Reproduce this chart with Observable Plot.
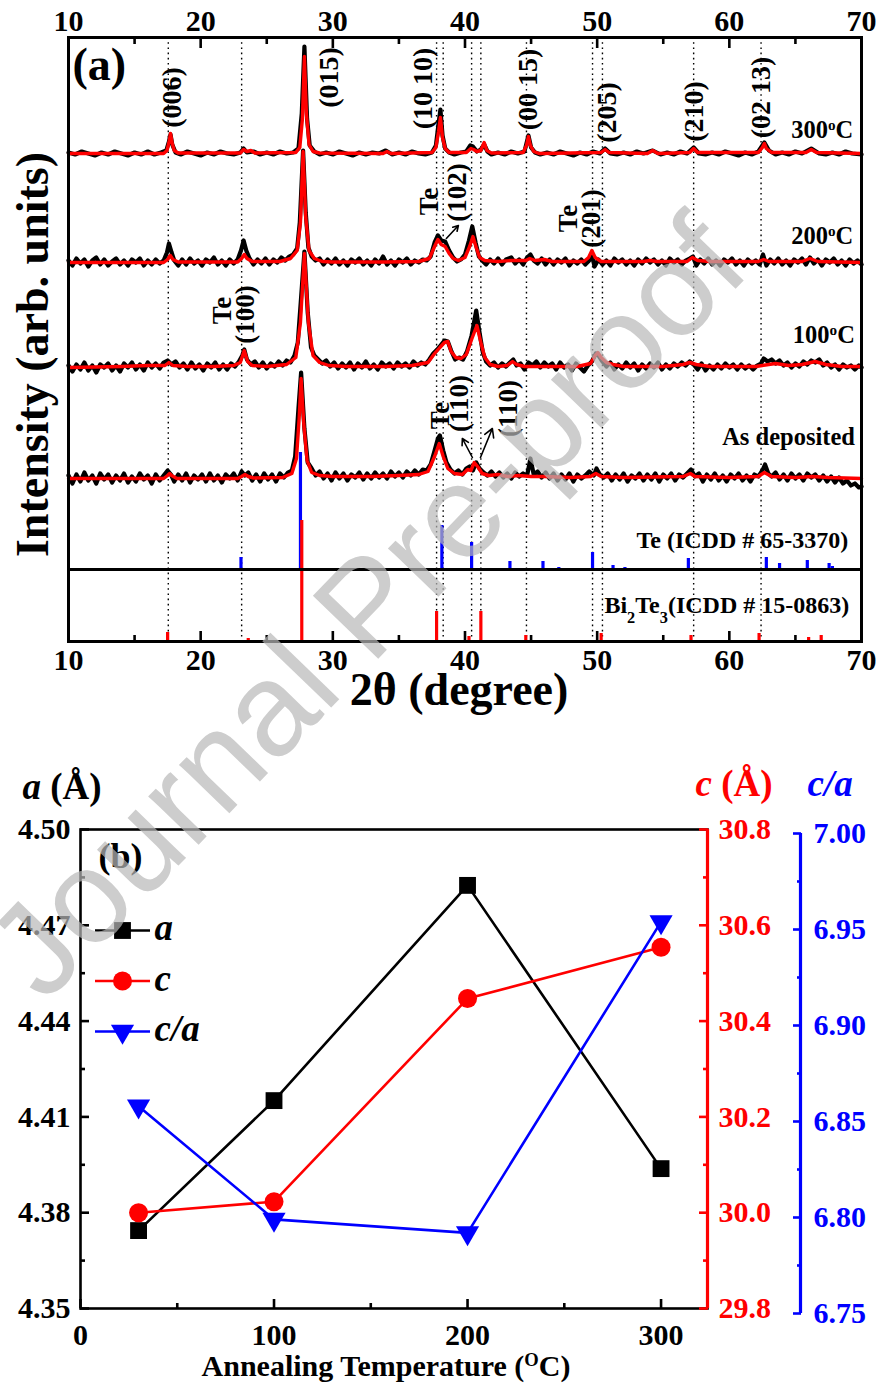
<!DOCTYPE html>
<html>
<head>
<meta charset="utf-8">
<script src="https://cdn.jsdelivr.net/npm/d3@7"></script>
<script src="https://cdn.jsdelivr.net/npm/@observablehq/plot@0.6"></script>
<style>
  html, body { margin: 0; padding: 0; background: #fff; }
  #wrap { position: relative; width: 882px; height: 1387px; overflow: hidden; background: #fff; }
  #wrap svg { position: absolute; left: 0; display: block; font-family: "Liberation Serif", "Times New Roman", serif !important; font-weight: bold; }
  #wrap svg text, #wrap svg tspan { font-family: "Liberation Serif", "Times New Roman", serif !important; }
  #wm { position: absolute; left: 366px; top: 606px; transform: translate(-50%, -50%) rotate(-46deg);
        font-family: "Liberation Sans", Arial, sans-serif; font-size: 132px; color: rgb(184,184,184); opacity: 0.7;
        white-space: nowrap; pointer-events: none; z-index: 10; }
</style>
</head>
<body>
<div id="wrap"><div id="wm">Journal Pre-proof</div></div>
<script>
// ================= DATA : panel (a) XRD patterns =================
// intensities in arbitrary units (heights above each pattern's baseline)
const patternNames = ["300^{o}C", "200^{o}C", "100^{o}C", "As deposited"];
const patternOffsets = [488, 379, 274, 163];

const fit300 = [[10,0],[17.2,0],[17.45,3],[17.6,11],[17.72,20],[17.85,10],[18.0,3],[18.3,0.5],[23.0,0.5],[23.25,4],[23.5,2],[23.8,3],[24.1,0.5],[27.2,1],[27.5,6],[27.7,35],[27.85,97],[28.0,40],[28.2,9],[28.5,2],[29.0,0.5],[33.8,0],[34.1,2],[34.4,0],[37.5,1],[37.8,6],[38.0,22],[38.14,36],[38.3,16],[38.5,5],[38.8,1],[40.1,1],[40.45,5],[40.65,4],[40.9,2],[41.2,3],[41.45,11],[41.65,3],[42.0,0.5],[44.4,1],[44.65,8],[44.8,17],[44.95,8],[45.2,2],[45.6,0],[50.3,1],[50.6,4],[50.9,1],[53.8,0],[54.2,3],[54.6,0],[57.0,1],[57.3,5],[57.6,1],[62.2,1],[62.5,6],[62.65,10],[62.8,5],[63.2,1],[65.8,1],[66.2,4],[66.6,1],[70,0]];
const raw300 = [[10,1],[10.5,-1],[11,2],[11.5,0],[12,-2],[12.5,1],[13,-1],[13.5,2],[14,0],[14.5,-2],[15,1],[15.5,-1],[16,2],[16.5,-1],[17,1],[17.4,3],[17.6,12],[17.72,19],[17.85,9],[18.1,1],[18.5,-1],[19,2],[19.5,0],[20,-2],[20.5,1],[21,-1],[21.5,2],[22,0],[22.5,-1],[23,1],[23.25,5],[23.5,1],[24,2],[24.5,-1],[25,1],[25.5,-1],[26,2],[26.5,0],[27,1],[27.4,5],[27.65,40],[27.85,107],[28.05,35],[28.25,8],[28.6,2],[29,-1],[29.5,1],[30,-1],[30.5,2],[31,0],[31.5,-2],[32,1],[32.5,-1],[33,1],[33.5,0],[34,3],[34.5,-1],[35,1],[35.5,-1],[36,2],[36.5,0],[37,-1],[37.5,1],[37.8,8],[38.0,30],[38.14,44],[38.3,18],[38.5,5],[38.8,1],[39.2,-1],[39.7,1],[40.1,2],[40.4,8],[40.6,7],[40.9,2],[41.2,4],[41.45,9],[41.7,2],[42,-1],[42.5,1],[43,-1],[43.5,2],[44,0],[44.5,2],[44.8,18],[45.0,6],[45.3,1],[45.7,-1],[46.2,1],[46.7,-1],[47.2,2],[47.7,0],[48.2,-2],[48.7,1],[49.2,-1],[49.7,2],[50.2,0],[50.6,5],[51,0],[51.5,-1],[52,1],[52.5,-1],[53,2],[53.5,0],[54.2,3],[54.8,-1],[55.3,1],[55.8,-1],[56.3,2],[56.8,0],[57.3,6],[57.7,0],[58.2,-1],[58.7,1],[59.2,-1],[59.7,2],[60.2,0],[60.7,-2],[61.2,1],[61.7,-1],[62.2,2],[62.65,11],[63.0,3],[63.5,-1],[64,1],[64.5,-1],[65,2],[65.5,0],[66.2,5],[66.8,0],[67.3,-1],[67.8,1],[68.3,-1],[68.8,2],[69.3,0],[70,-1]];

const fit200 = [[10,0],[17.2,0],[17.5,3],[17.7,7],[17.9,3],[18.3,0.5],[22.8,0.5],[23.1,4],[23.3,8],[23.5,4],[23.9,1],[26.0,1],[26.8,4],[27.3,12],[27.55,40],[27.75,111],[27.95,45],[28.2,12],[28.6,4],[29.2,1],[30,0.5],[34.0,0.5],[36.5,1],[37.3,4],[37.7,16],[37.95,23],[38.2,18],[38.5,16],[38.8,9],[39.1,4],[39.5,2],[40.0,5],[40.35,16],[40.6,26],[40.85,15],[41.1,5],[41.5,2],[42.5,1],[43.5,2],[44.6,2],[44.9,4],[45.3,2],[46.0,3],[46.6,1],[49.0,1],[49.35,5],[49.6,12],[49.85,5],[50.3,1],[53.5,1],[54.0,2],[54.5,1],[56.8,1],[57.2,5],[57.6,2],[58.5,1],[62.2,1],[62.6,3],[63.0,1],[65.5,1],[66.1,4],[66.7,1],[70,0]];
const raw200 = [[10,2],[10.3,-3],[10.6,4],[10.9,-1],[11.2,3],[11.5,-4],[11.8,2],[12.1,5],[12.4,-2],[12.7,3],[13.0,-3],[13.3,1],[13.6,4],[13.9,-2],[14.2,2],[14.5,-3],[14.8,3],[15.1,0],[15.4,4],[15.7,-3],[16.0,2],[16.3,-2],[16.6,3],[16.9,-1],[17.2,2],[17.45,10],[17.6,19],[17.8,10],[18.0,2],[18.3,-3],[18.6,3],[18.9,-2],[19.2,4],[19.5,-1],[19.8,2],[20.1,-3],[20.4,3],[20.7,0],[21.0,5],[21.3,-2],[21.6,2],[21.9,-3],[22.2,3],[22.5,-1],[22.8,3],[23.05,12],[23.25,22],[23.45,12],[23.7,4],[24.0,-2],[24.3,3],[24.6,-1],[24.9,4],[25.2,-2],[25.5,3],[25.8,0],[26.1,5],[26.4,2],[26.7,6],[27.0,8],[27.3,14],[27.5,40],[27.75,112],[27.95,50],[28.15,15],[28.4,6],[28.7,2],[29.0,4],[29.3,-2],[29.6,3],[29.9,-1],[30.2,4],[30.5,-2],[30.8,2],[31.1,-3],[31.4,3],[31.7,0],[32.0,4],[32.3,-2],[32.6,2],[32.9,-3],[33.2,3],[33.5,-1],[33.8,6],[34.1,-2],[34.4,2],[34.7,-3],[35.0,3],[35.3,0],[35.6,4],[35.9,-2],[36.2,2],[36.5,0],[36.8,3],[37.1,2],[37.4,6],[37.7,20],[37.95,27],[38.2,22],[38.5,21],[38.8,12],[39.1,5],[39.4,1],[39.7,3],[40.0,8],[40.3,22],[40.55,36],[40.8,20],[41.05,6],[41.3,2],[41.6,-2],[41.9,3],[42.2,-1],[42.5,4],[42.8,-2],[43.1,3],[43.5,5],[43.8,-1],[44.1,3],[44.4,-2],[44.7,5],[44.95,8],[45.2,2],[45.5,-1],[45.8,4],[46.1,-2],[46.4,3],[46.7,-2],[47.0,3],[47.3,0],[47.6,4],[47.9,-3],[48.2,2],[48.5,-1],[48.8,3],[49.1,-2],[49.4,2],[49.6,8],[49.8,-4],[50.1,3],[50.4,-2],[50.7,2],[51.0,-3],[51.3,4],[51.6,0],[51.9,3],[52.2,-2],[52.5,2],[52.8,-3],[53.1,3],[53.4,-1],[53.7,4],[54.0,0],[54.3,3],[54.6,-2],[54.9,2],[55.2,-3],[55.5,4],[55.8,0],[56.1,3],[56.4,-2],[56.7,2],[57.0,4],[57.25,6],[57.5,-3],[57.8,3],[58.1,-1],[58.4,4],[58.7,-2],[59.0,2],[59.3,-3],[59.6,3],[59.9,0],[60.2,4],[60.5,-2],[60.8,2],[61.1,-3],[61.4,3],[61.7,-1],[62.0,2],[62.3,-2],[62.55,8],[62.8,-3],[63.1,3],[63.4,-1],[63.7,4],[64.0,-2],[64.3,2],[64.6,-3],[64.9,3],[65.2,0],[65.5,4],[65.8,-2],[66.1,5],[66.4,-1],[66.7,3],[67.0,-3],[67.3,3],[67.6,0],[67.9,4],[68.2,-2],[68.5,2],[68.8,-3],[69.1,3],[69.4,-1],[69.7,2],[70,-2]];

const fit100 = [[10,0],[14,1],[16,2],[17.3,2],[17.6,5],[17.9,2],[19,1],[21,1],[22.5,2],[23.0,5],[23.3,17],[23.55,6],[23.9,2],[25,1],[26.5,3],[27.2,10],[27.55,45],[27.85,114],[28.15,45],[28.5,12],[29,5],[29.7,2],[31,1],[34,1],[36,2],[37.2,5],[37.7,14],[38.1,20],[38.45,25],[38.7,26],[38.95,16],[39.3,10],[39.7,9],[40.1,13],[40.5,28],[40.9,42],[41.2,25],[41.5,10],[41.9,3],[42.5,1],[43.2,2],[43.6,6],[43.9,3],[44.5,1],[48.5,1],[49.5,4],[49.85,12],[50.05,15],[50.3,10],[50.7,5],[51.2,3],[52,1],[55,1],[56.5,3],[57.0,5],[57.5,3],[58.5,1],[62,1],[63.5,4],[64.5,2],[65.5,3],[66.5,6],[67.3,3],[68.5,1],[70,1]];
const raw100 = [[10,2],[10.3,-4],[10.6,3],[10.9,-2],[11.2,5],[11.5,-3],[11.8,2],[12.1,-5],[12.4,3],[12.7,0],[13.0,4],[13.3,-3],[13.6,2],[13.9,-4],[14.2,4],[14.5,0],[14.8,5],[15.1,-2],[15.4,3],[15.7,-3],[16.0,5],[16.3,0],[16.6,4],[16.9,-1],[17.2,5],[17.5,7],[17.8,3],[18.1,6],[18.4,0],[18.7,4],[19.0,-2],[19.3,5],[19.6,-1],[19.9,3],[20.2,-3],[20.5,4],[20.8,0],[21.1,5],[21.4,-2],[21.7,3],[22.0,-2],[22.3,4],[22.6,1],[22.9,6],[23.15,12],[23.3,18],[23.5,8],[23.8,3],[24.1,6],[24.4,0],[24.7,5],[25.0,-1],[25.3,4],[25.6,1],[25.9,6],[26.2,2],[26.5,7],[26.8,5],[27.1,12],[27.35,25],[27.6,70],[27.85,116],[28.1,55],[28.35,20],[28.6,12],[28.9,8],[29.2,4],[29.5,7],[29.8,1],[30.1,5],[30.4,-1],[30.7,4],[31.0,0],[31.3,5],[31.6,-2],[31.9,4],[32.2,0],[32.5,6],[32.8,-1],[33.1,3],[33.4,-2],[33.7,5],[34.0,1],[34.3,4],[34.6,-1],[34.9,5],[35.2,1],[35.5,4],[35.8,0],[36.1,6],[36.4,2],[36.7,5],[37.0,3],[37.3,8],[37.6,14],[37.9,18],[38.15,22],[38.45,27],[38.7,26],[38.95,17],[39.25,8],[39.55,10],[39.85,8],[40.15,16],[40.5,32],[40.85,57],[41.1,35],[41.35,15],[41.6,6],[41.9,2],[42.2,5],[42.5,0],[42.8,4],[43.1,1],[43.4,5],[43.65,8],[43.9,2],[44.2,4],[44.5,-2],[44.8,5],[45.1,2],[45.4,6],[45.7,0],[46.0,5],[46.3,1],[46.6,4],[46.9,-2],[47.2,5],[47.5,0],[47.8,3],[48.1,-3],[48.4,4],[48.7,0],[49.0,-4],[49.3,2],[49.6,6],[49.9,14],[50.1,12],[50.4,6],[50.7,1],[51.0,5],[51.3,-2],[51.6,3],[51.9,-1],[52.2,5],[52.5,0],[52.8,4],[53.1,-3],[53.4,3],[53.7,-1],[54.0,4],[54.3,0],[54.6,5],[54.9,-2],[55.2,3],[55.5,-1],[55.8,4],[56.1,1],[56.4,5],[56.7,2],[57.0,6],[57.3,3],[57.6,-2],[57.9,4],[58.2,-3],[58.5,2],[58.8,-2],[59.1,3],[59.4,-1],[59.7,4],[60.0,0],[60.3,3],[60.6,-2],[60.9,3],[61.2,-1],[61.5,2],[61.8,-2],[62.1,2],[62.4,4],[62.6,9],[62.9,6],[63.2,8],[63.5,4],[63.8,7],[64.1,2],[64.4,5],[64.7,0],[65.0,4],[65.3,1],[65.6,6],[65.9,3],[66.2,7],[66.5,5],[66.8,8],[67.1,2],[67.4,5],[67.7,0],[68.0,3],[68.3,-2],[68.6,3],[68.9,0],[69.2,2],[69.5,-2],[69.8,2],[70,0]];

const fitAD = [[10,0],[17.2,0],[17.5,3],[17.65,5],[17.8,3],[18.2,0],[22.8,0],[23.1,2],[23.35,4],[23.6,2],[24,0.5],[26.2,1],[26.9,5],[27.25,20],[27.45,60],[27.6,100],[27.8,55],[28.05,18],[28.4,6],[29,3],[30,2],[33,2],[35,3],[36.5,4],[37.2,7],[37.7,22],[38.05,35],[38.35,22],[38.7,10],[39.2,5],[39.8,4],[40.2,9],[40.45,8],[40.7,16],[40.95,12],[41.3,5],[41.8,3],[42.5,4],[43.2,2],[44,3],[45,2],[46,2],[48,1],[49.5,2],[49.9,5],[50.3,2],[52,1],[56.5,2],[57.05,5],[57.4,2],[60,1],[62.2,2],[62.65,6],[63.2,2],[65,1],[66.3,2],[67.5,1],[70,0]];
const rawAD = [[10,3],[10.3,-5],[10.6,4],[10.9,-3],[11.2,6],[11.5,-2],[11.8,3],[12.1,-5],[12.4,5],[12.7,-1],[13.0,4],[13.3,-4],[13.6,3],[13.9,-2],[14.2,5],[14.5,-4],[14.8,2],[15.1,-3],[15.4,5],[15.7,-1],[16.0,3],[16.3,-5],[16.6,4],[16.9,-2],[17.2,3],[17.5,8],[17.75,4],[18.0,-3],[18.3,4],[18.6,-2],[18.9,5],[19.2,-4],[19.5,3],[19.8,-1],[20.1,4],[20.4,-3],[20.7,5],[21.0,-2],[21.3,3],[21.6,-4],[21.9,4],[22.2,0],[22.5,5],[22.8,-2],[23.1,7],[23.35,3],[23.6,6],[23.9,-2],[24.2,4],[24.5,-3],[24.8,5],[25.1,-1],[25.4,4],[25.7,-3],[26.0,5],[26.3,1],[26.6,6],[26.9,8],[27.15,22],[27.4,70],[27.6,106],[27.85,50],[28.1,16],[28.4,10],[28.7,3],[29.0,7],[29.3,0],[29.6,5],[29.9,-2],[30.2,6],[30.5,0],[30.8,5],[31.1,-2],[31.4,4],[31.7,1],[32.0,6],[32.3,-1],[32.6,5],[32.9,0],[33.2,6],[33.5,1],[33.8,5],[34.1,0],[34.4,7],[34.7,2],[35.0,6],[35.3,1],[35.6,7],[35.9,3],[36.2,8],[36.5,4],[36.8,9],[37.1,8],[37.4,14],[37.7,28],[37.95,40],[38.1,43],[38.35,28],[38.6,16],[38.9,9],[39.2,5],[39.5,8],[39.8,4],[40.1,10],[40.35,12],[40.6,8],[40.85,16],[41.1,10],[41.4,6],[41.7,3],[42.0,7],[42.3,2],[42.6,6],[42.9,1],[43.2,5],[43.5,0],[43.8,6],[44.1,2],[44.4,5],[44.7,3],[44.95,20],[45.2,4],[45.5,7],[45.8,1],[46.1,6],[46.4,0],[46.7,5],[47.0,-2],[47.3,4],[47.6,-1],[47.9,5],[48.2,-3],[48.5,4],[48.8,0],[49.1,3],[49.4,7],[49.75,3],[49.95,10],[50.2,4],[50.5,1],[50.8,5],[51.1,-2],[51.4,4],[51.7,-1],[52.0,5],[52.3,-3],[52.6,3],[52.9,0],[53.2,5],[53.5,-2],[53.8,4],[54.1,-1],[54.4,5],[54.7,-3],[55.0,4],[55.3,0],[55.6,5],[55.9,-2],[56.2,4],[56.5,1],[56.8,5],[57.1,9],[57.4,2],[57.7,5],[58.0,-3],[58.3,4],[58.6,-1],[58.9,5],[59.2,-2],[59.5,3],[59.8,-3],[60.1,4],[60.4,0],[60.7,5],[61.0,-2],[61.3,3],[61.6,-3],[61.9,4],[62.2,2],[62.5,8],[62.7,14],[62.95,5],[63.2,2],[63.5,6],[63.8,-1],[64.1,4],[64.4,-2],[64.7,5],[65.0,0],[65.3,4],[65.6,-2],[65.9,5],[66.2,1],[66.5,4],[66.8,-2],[67.1,3],[67.4,-3],[67.7,2],[68.0,-4],[68.3,1],[68.6,-5],[68.9,-2],[69.2,-7],[69.5,-5],[69.8,-9],[70,-8]];

// reference patterns (stick positions, relative intensities)
const teRefName = "Te (ICDD # 65-3370)";
const teRefOffset = 72;
const teRef = [[23.05,12],[27.55,117],[38.25,44],[40.5,27],[43.4,8],[45.9,8],[47.1,2],[49.65,17],[51.2,4],[52.1,2],[56.9,11],[62.8,12],[63.8,6],[65.9,9],[67.55,6],[67.8,3]];
const biRefName = "Bi_{2}Te_{3}(ICDD # 15-0863)";
const biRef = [[17.5,9],[23.6,3],[27.65,121],[33.2,1],[37.85,30],[40.3,5],[41.2,30],[42.1,1],[44.6,6],[45.2,1],[50.3,8],[53.8,1],[57.1,6],[62.25,8],[63.1,1],[66.0,4],[66.95,6],[69.9,1]];

// dotted guide lines (2θ) and tick values
const guideLines = [17.55, 23.1, 37.85, 38.35, 40.5, 41.2, 44.65, 49.65, 50.4, 57.3, 62.4];
const xTicksMajorA = [10, 20, 30, 40, 50, 60, 70];
const xTicksMinorA = [15, 25, 35, 45, 55, 65];

// peak annotations: [text, 2θ, intensity]
const hklLabels = [["(006)",17.87,544],["(015)",29.7,564],["(10 10)",36.85,553],["(00 15)",44.8,552],["(205)",50.77,529],["(210)",57.3,530],["(02 13)",62.4,544]];
const teLabels = [["Te",21.65,331],["(100)",23.39,327],["Te",37.31,440],["(102)",39.43,449],["Te",47.82,423],["(201)",49.56,423],["Te",38.14,226],["(110)",39.58,238],["(110)",43.28,233]];
const arrowsA = [[38.59,403,39.5,416],[40.56,184,39.8,203],[41.17,184,42.07,213]];
const sampleLabelPos = [[69.38,511],[69.38,405],[69.5,306],[69.5,204]];

// ================= DATA : panel (b) lattice parameters =================
const temps = [30, 100, 200, 300];
const aVals = [4.3744, 4.4151, 4.4825, 4.3938];
const cVals = [30.000, 30.023, 30.447, 30.554];
const caVals = [6.858, 6.799, 6.792, 6.954];
const aTicks = [4.35, 4.38, 4.41, 4.44, 4.47, 4.50];
const aMinor = [4.365, 4.395, 4.425, 4.455, 4.485];
const cTicks = [29.8, 30.0, 30.2, 30.4, 30.6, 30.8];
const cMinor = [29.9, 30.1, 30.3, 30.5, 30.7];
const caTicks = [6.75, 6.80, 6.85, 6.90, 6.95, 7.00];
const caMinor = [6.775, 6.825, 6.875, 6.925, 6.975];
const tTicks = [0, 100, 200, 300];
const tMinor = [50, 150, 250];

// ================= BUILD =================
const FONT = "Liberation Serif";
const baseStyle = {fontFamily: FONT, fontWeight: "bold", background: "transparent", color: "black", overflow: "visible"};
const C = {textAnchor: "middle", lineAnchor: "middle", fontFamily: FONT, fill: "black"};

const fits = [fit300, fit200, fit100, fitAD];
const raws = [raw300, raw200, raw100, rawAD];
const fitRows = fits.flatMap((arr, i) => arr.map(([x, v]) => ({x, y: v + patternOffsets[i], s: i})));
const rawRows = raws.flatMap((arr, i) => arr.map(([x, v]) => ({x, y: v + patternOffsets[i], s: i})));
const sampleLabels = patternNames.map((n, i) => ({t: n, x: sampleLabelPos[i][0], y: sampleLabelPos[i][1]}));

const plotA = Plot.plot({
  width: 882, height: 710,
  marginLeft: 68, marginRight: 21, marginTop: 37, marginBottom: 69,
  x: {domain: [10, 70]},
  y: {domain: [0, 604], axis: null},
  style: baseStyle,
  marks: [
    Plot.ruleX(guideLines, {stroke: "black", strokeWidth: 1.4, strokeDasharray: "1.6,3.6"}),
    Plot.ruleX(teRef, {x: d => d[0], y1: teRefOffset, y2: d => teRefOffset + d[1], stroke: "blue", strokeWidth: 3.2}),
    Plot.ruleX(biRef, {x: d => d[0], y1: 0, y2: d => d[1], stroke: "red", strokeWidth: 3.2}),
    Plot.ruleY([teRefOffset], {stroke: "black", strokeWidth: 3}),
    Plot.line(rawRows, {x: "x", y: "y", z: "s", stroke: "black", strokeWidth: 4.2, strokeLinejoin: "round"}),
    Plot.line(fitRows, {x: "x", y: "y", z: "s", stroke: "#ff0000", strokeWidth: 3.4, strokeLinejoin: "round"}),
    Plot.text(hklLabels, {...C, x: d => d[1], y: d => d[2], text: d => d[0], rotate: -90, fontSize: 28}),
    Plot.text(teLabels, {...C, x: d => d[1], y: d => d[2], text: d => d[0], rotate: -90, fontSize: 27}),
    Plot.arrow(arrowsA, {x1: d => d[0], y1: d => d[1], x2: d => d[2], y2: d => d[3], stroke: "black", strokeWidth: 1.6, headLength: 9}),
    Plot.text(sampleLabels, {...C, x: "x", y: "y", text: "t", textAnchor: "end", fontSize: 24.5}),
    Plot.text([teRefName], {...C, x: 69.0, y: 101, text: d => d, textAnchor: "end", fontSize: 24}),
    Plot.text([biRefName], {...C, x: 69.07, y: 36, text: d => d, textAnchor: "end", fontSize: 24}),
    Plot.text(["(a)"], {...C, frameAnchor: "top-left", dx: 4, dy: 28, text: d => d, textAnchor: "start", fontSize: 46}),
    Plot.text(["Intensity (arb. units)"], {...C, frameAnchor: "left", dx: -35, dy: 15, rotate: -90, text: d => d, fontSize: 46}),
    Plot.text(["2θ (degree)"], {...C, frameAnchor: "bottom", dx: -6, dy: 49, text: d => d, fontSize: 46}),
    Plot.axisX({anchor: "bottom", ticks: xTicksMajorA, tickSize: -10, tickPadding: 17, strokeWidth: 2.6, fontSize: 30, fontFamily: FONT, label: null}),
    Plot.axisX({anchor: "bottom", ticks: xTicksMinorA, tickSize: -6, tickFormat: () => "", strokeWidth: 2.6, label: null}),
    Plot.axisX({anchor: "top", ticks: xTicksMajorA, tickSize: -10, tickPadding: 17, strokeWidth: 2.6, fontSize: 30, fontFamily: FONT, label: null}),
    Plot.axisX({anchor: "top", ticks: xTicksMinorA, tickSize: -6, tickFormat: () => "", strokeWidth: 2.6, label: null}),
    Plot.frame({stroke: "black", strokeWidth: 3})
  ]
});

// ---- panel (b): three overlaid plots sharing x, each with its own y scale
const rowsB = temps.map((t, i) => ({t, a: aVals[i], c: cVals[i], ca: caVals[i]}));
const xB = {domain: [0, 324]};
const hline = {draw(ctx) { ctx.moveTo(-27.5, 0); ctx.lineTo(27.5, 0); }};
const legendB = [
  {label: "~{a}", color: "black", symbol: "square", r: 9.5, rotate: 0},
  {label: "~{c}", color: "red", symbol: "circle", r: 9.5, rotate: 0},
  {label: "~{c/a}", color: "blue", symbol: "triangle", r: 8.6, rotate: 180}
];

const plotB1 = Plot.plot({
  width: 882, height: 677, marginLeft: 80, marginRight: 175, marginTop: 119, marginBottom: 79,
  x: xB, y: {domain: [4.35, 4.50]},
  style: baseStyle,
  marks: [
    Plot.frame({stroke: "black", strokeWidth: 2.6}),
    Plot.axisX({ticks: tTicks, tickSize: -9, tickPadding: 24, strokeWidth: 2.6, fontSize: 30, fontFamily: FONT, label: null}),
    Plot.axisX({ticks: tMinor, tickSize: -5, tickFormat: () => "", strokeWidth: 2.6, label: null}),
    Plot.axisY({ticks: aTicks, tickSize: -9, tickPadding: 19, tickFormat: d3.format(".2f"), strokeWidth: 2.6, fontSize: 30, fontFamily: FONT, label: null}),
    Plot.axisY({ticks: aMinor, tickSize: -5, tickFormat: () => "", strokeWidth: 2.6, label: null}),
    Plot.line(rowsB, {x: "t", y: "a", stroke: "black", strokeWidth: 2.6}),
    Plot.dot(rowsB, {x: "t", y: "a", symbol: "square", r: 9.5, fill: "black", stroke: "none"}),
    ...legendB.flatMap((it, i) => [
      Plot.dot([0], {frameAnchor: "top-left", dx: 42, dy: 101 + 50.5 * i, symbol: hline, r: 5, stroke: it.color, strokeWidth: 2.6, fill: "none"}),
      Plot.dot([0], {frameAnchor: "top-left", dx: 42, dy: 101 + 50.5 * i, symbol: it.symbol, r: it.r, rotate: it.rotate, fill: it.color, stroke: "none"}),
      Plot.text([it.label], {...C, frameAnchor: "top-left", dx: 74, dy: 99 + 50.5 * i, text: d => d, textAnchor: "start", fontSize: 37})
    ]),
    Plot.text(["(b)"], {...C, frameAnchor: "top-left", dx: 18, dy: 27, text: d => d, textAnchor: "start", fontSize: 36}),
    Plot.text(["~{a} (Å)"], {...C, frameAnchor: "top-left", dx: -58, dy: -42, text: d => d, textAnchor: "start", fontSize: 37}),
    Plot.text(["~{c} (Å)"], {...C, frameAnchor: "top-right", dx: -12, dy: -45, text: d => d, textAnchor: "start", fontSize: 37, fill: "red"}),
    Plot.text(["~{c/a}"], {...C, frameAnchor: "top-right", dx: 100, dy: -45, text: d => d, textAnchor: "start", fontSize: 37, fill: "blue"}),
    Plot.text(["Annealing Temperature (^{O}C)"], {...C, frameAnchor: "bottom", dx: -8, dy: 58, text: d => d, fontSize: 30})
  ]
});

const plotB2 = Plot.plot({
  width: 882, height: 677, marginLeft: 80, marginRight: 175, marginTop: 119, marginBottom: 79,
  x: Object.assign({axis: null}, xB), y: {domain: [29.8, 30.8]},
  style: baseStyle,
  marks: [
    Plot.ruleX([324], {stroke: "red", strokeWidth: 3.2}),
    Plot.axisY({anchor: "right", ticks: cTicks, tickSize: -9, tickPadding: 20, tickFormat: d3.format(".1f"), stroke: "red", fill: "red", strokeWidth: 2.6, fontSize: 30, fontFamily: FONT, label: null}),
    Plot.axisY({anchor: "right", ticks: cMinor, tickSize: -5, tickFormat: () => "", stroke: "red", strokeWidth: 2.6, label: null}),
    Plot.line(rowsB, {x: "t", y: "c", stroke: "red", strokeWidth: 2.6}),
    Plot.dot(rowsB, {x: "t", y: "c", symbol: "circle", r: 9.5, fill: "red", stroke: "none"})
  ]
});

const plotB3 = Plot.plot({
  width: 882, height: 677, marginLeft: 80, marginRight: 175, marginTop: 123, marginBottom: 74,
  x: Object.assign({axis: null}, xB), y: {domain: [6.75, 7.00]},
  style: baseStyle,
  marks: [
    Plot.ruleX([324], {dx: 93, stroke: "blue", strokeWidth: 3.2}),
    Plot.axisY({anchor: "right", dx: 93, ticks: caTicks, tickSize: -8, tickPadding: 21, tickFormat: d3.format(".2f"), stroke: "blue", fill: "blue", strokeWidth: 2.6, fontSize: 30, fontFamily: FONT, label: null}),
    Plot.axisY({anchor: "right", dx: 93, ticks: caMinor, tickSize: -4, tickFormat: () => "", stroke: "blue", strokeWidth: 2.6, label: null}),
    Plot.line(rowsB, {x: "t", y: "ca", stroke: "blue", strokeWidth: 2.6}),
    Plot.dot(rowsB, {x: "t", y: "ca", symbol: "triangle", r: 8.6, rotate: 180, fill: "blue", stroke: "none"})
  ]
});

// rich text: ^{sup} _{sub} ~{italic}
function richNode(node) {
  const s = node.textContent;
  if (!/[\^_~]\{/.test(s)) return;
  node.textContent = "";
  const re = /([\^_~])\{([^}]*)\}|([^\^_~]+)/g;
  let m;
  while ((m = re.exec(s))) {
    const ts = document.createElementNS("http://www.w3.org/2000/svg", "tspan");
    if (m[3] !== undefined) { ts.textContent = m[3]; }
    else {
      ts.textContent = m[2];
      if (m[1] === "^") { ts.setAttribute("baseline-shift", "super"); ts.style.fontSize = "62%"; }
      else if (m[1] === "_") { ts.setAttribute("baseline-shift", "sub"); ts.style.fontSize = "68%"; }
      else { ts.style.fontStyle = "italic"; }
    }
    node.appendChild(ts);
  }
}
function rich(svg) {
  svg.querySelectorAll("text").forEach(t => {
    const tspans = t.querySelectorAll("tspan");
    if (tspans.length) tspans.forEach(richNode); else richNode(t);
  });
}

const wrap = document.getElementById("wrap");
const wm = document.getElementById("wm");
[[plotA, 0], [plotB1, 710], [plotB2, 710], [plotB3, 710]].forEach(([svg, top]) => {
  rich(svg);
  svg.style.top = top + "px";
  wrap.insertBefore(svg, wm);
});
</script>
</body>
</html>
